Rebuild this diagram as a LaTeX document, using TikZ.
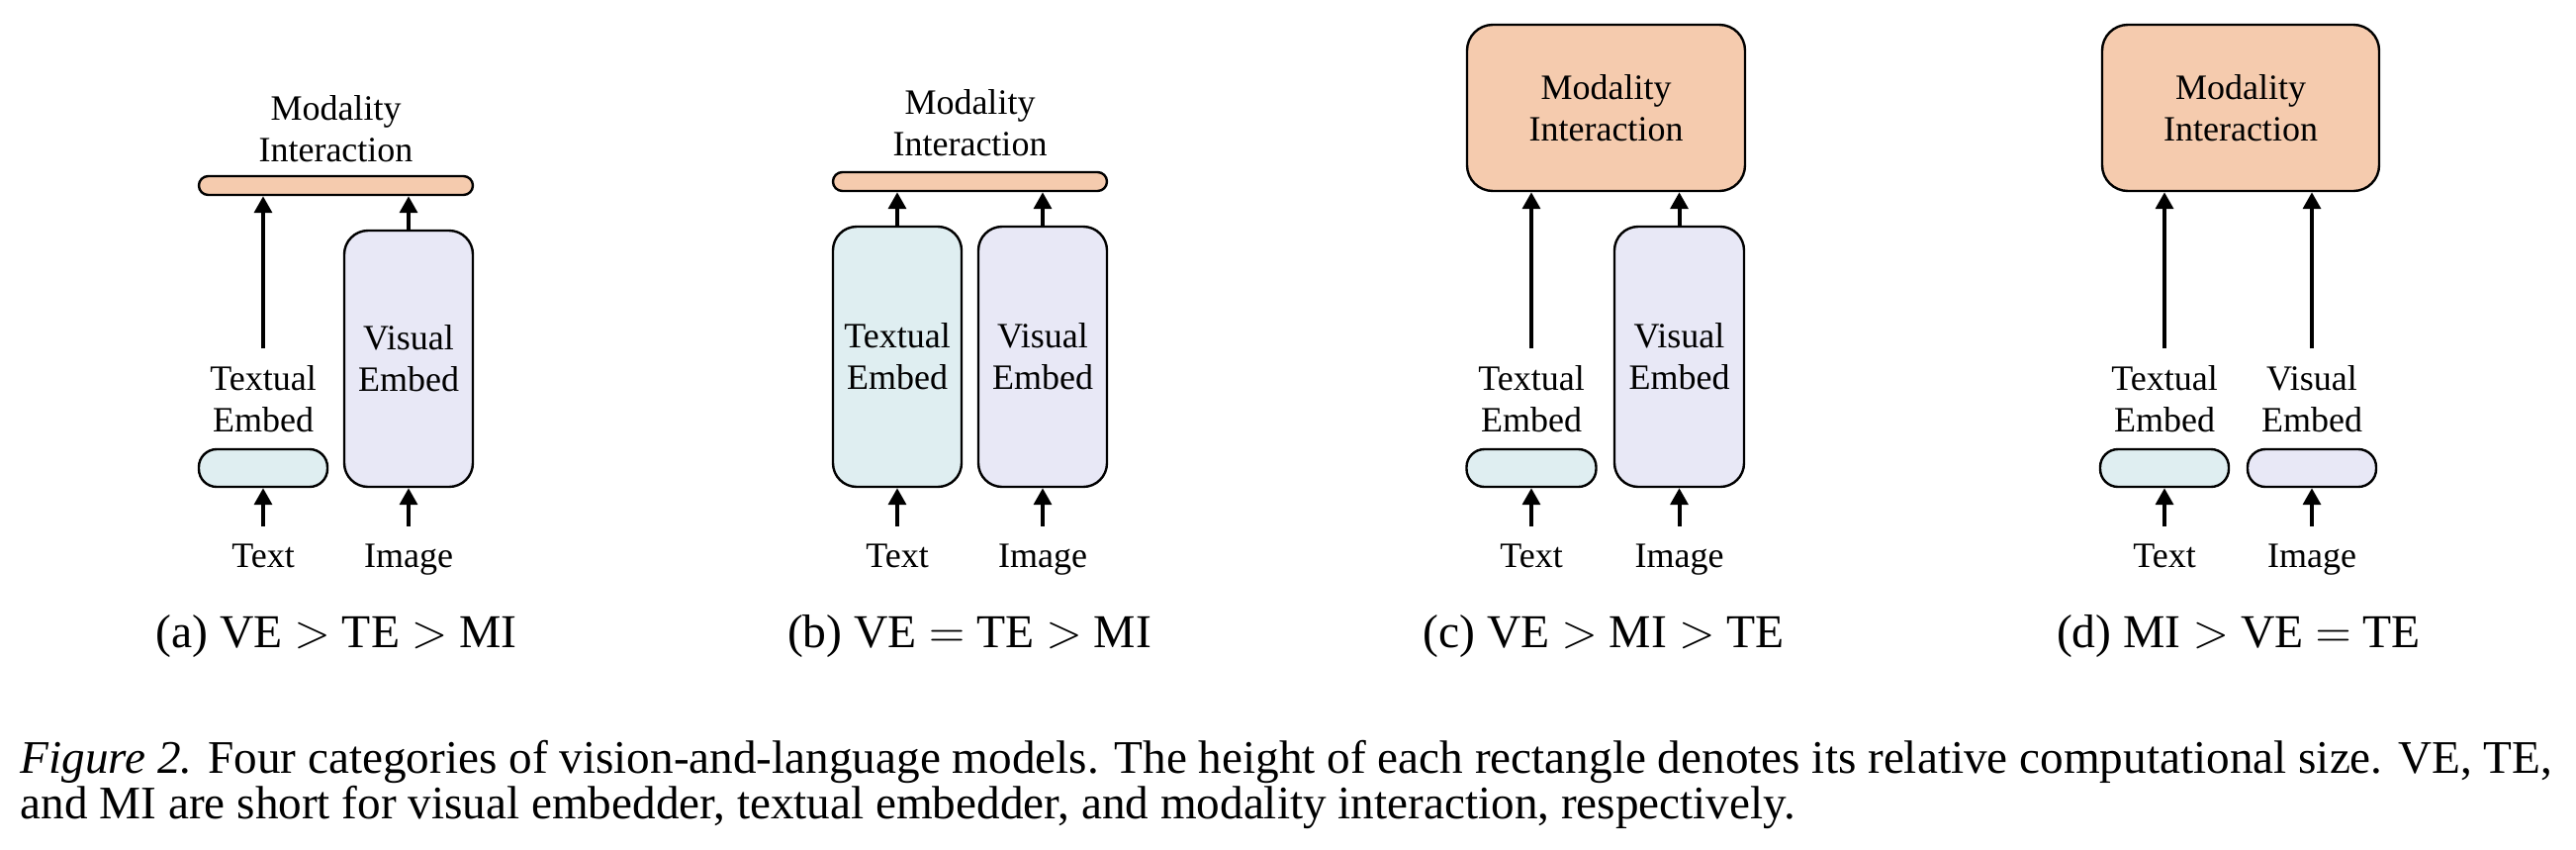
\documentclass[tikz,border=0pt]{standalone}
\usepackage{fontspec}
\setmainfont{Liberation Serif}
\usetikzlibrary{arrows.meta}
\definecolor{mic}{HTML}{F5CBAE}
\definecolor{tec}{HTML}{DFEEF1}
\definecolor{vec}{HTML}{E8E8F6}
\begin{document}
\begin{tikzpicture}[x=0.25pt,y=-0.25pt,
  lbl/.style={font=\fontsize{9}{10.5}\selectfont, align=center, inner sep=4.2pt},
  boxb/.style={draw=black, line width=0.6pt, inner sep=0pt, align=center, font=\fontsize{9}{10.5}\selectfont},
  mibox/.style={boxb, fill=mic},
  tebox/.style={boxb, fill=tec},
  vebox/.style={boxb, fill=vec},
  bar/.style={minimum width=69.25pt, minimum height=4.75pt, rounded corners=2.37pt},
  small/.style={minimum width=32.5pt, minimum height=9.5pt, rounded corners=4.5pt},
  tall/.style={minimum width=32.5pt, minimum height=65.75pt, rounded corners=6pt},
  big/.style={minimum width=70.25pt, minimum height=42pt, rounded corners=6.5pt},
  arr/.style={line width=1pt, -{Triangle[length=4.2pt,width=4.4pt]}},
  subcap/.style={font=\fontsize{11.9}{12}\selectfont, anchor=base, inner sep=0pt},
  capt/.style={font=\fontsize{11.8}{12}\selectfont, anchor=base west, inner sep=0pt},
]
\useasboundingbox (0,0) rectangle (2604,858);

% ---------- (a)
\node[lbl] (mila) at (339.5,130.3) {Modality\\Interaction};
\node[mibox, bar] (mia) at (339.5,187.5) {};
\node[lbl] (tla) at (266,403.3) {Textual\\Embed};
\node[tebox, small] (tea) at (266,473) {};
\node[vebox, tall, minimum height=64.75pt] (vea) at (413,362.5) {Visual\\Embed};
\node[lbl, anchor=base] (txa) at (266,573) {Text};
\node[lbl, anchor=base] (ima) at (413,573) {Image};
\draw[arr] (txa.north) -- (txa.north |- tea.south);
\draw[arr] (ima.north) -- (ima.north |- vea.south);
\draw[arr] (tla.north) -- (tla.north |- mia.south);
\draw[arr] (vea.north) -- (vea.north |- mia.south);
\node[subcap] (sa) at (340,654) {(a) VE $>$ TE $>$ MI};

% ---------- (b)
\node[lbl] (milb) at (980.5,124) {Modality\\Interaction};
\node[mibox, bar] (mib) at (980.5,183.5) {};
\node[tebox, tall] (teb) at (907,360.5) {Textual\\Embed};
\node[vebox, tall] (veb) at (1054,360.5) {Visual\\Embed};
\node[lbl, anchor=base] (txb) at (907,573) {Text};
\node[lbl, anchor=base] (imb) at (1054,573) {Image};
\draw[arr] (txb.north) -- (txb.north |- teb.south);
\draw[arr] (imb.north) -- (imb.north |- veb.south);
\draw[arr] (teb.north) -- (teb.north |- mib.south);
\draw[arr] (veb.north) -- (veb.north |- mib.south);
\node[subcap] (sb) at (980,654) {(b) VE $=$ TE $>$ MI};

% ---------- (c)
\node[mibox, big] (mic) at (1623.5,109) {Modality\\Interaction};
\node[lbl] (tlc) at (1548,403.3) {Textual\\Embed};
\node[tebox, small, minimum width=32.75pt] (tec) at (1548,473) {};
\node[vebox, tall, minimum width=32.75pt] (vec) at (1697.5,360.5) {Visual\\Embed};
\node[lbl, anchor=base] (txc) at (1548,573) {Text};
\node[lbl, anchor=base] (imc) at (1697.5,573) {Image};
\draw[arr] (txc.north) -- (txc.north |- tec.south);
\draw[arr] (imc.north) -- (imc.north |- vec.south);
\draw[arr] (tlc.north) -- (tlc.north |- mic.south);
\draw[arr] (vec.north) -- (vec.north |- mic.south);
\node[subcap] (sc) at (1621,654) {(c) VE $>$ MI $>$ TE};

% ---------- (d)
\node[mibox, big, minimum width=70pt] (mid) at (2265,109) {Modality\\Interaction};
\node[lbl] (tld) at (2188,403.3) {Textual\\Embed};
\node[lbl] (vld) at (2337,403.3) {Visual\\Embed};
\node[tebox, small] (ted) at (2188,473) {};
\node[vebox, small] (ved) at (2337,473) {};
\node[lbl, anchor=base] (txd) at (2188,573) {Text};
\node[lbl, anchor=base] (imd) at (2337,573) {Image};
\draw[arr] (txd.north) -- (txd.north |- ted.south);
\draw[arr] (imd.north) -- (imd.north |- ved.south);
\draw[arr] (tld.north) -- (tld.north |- mid.south);
\draw[arr] (vld.north) -- (vld.north |- mid.south);
\node[subcap] (sd) at (2263,654) {(d) MI $>$ VE $=$ TE};

% ---------- caption
\node[capt] (cap1) at (20,781) {\textit{Figure 2.} Four categories of vision-and-language models. The height of each rectangle denotes its relative computational size. VE, TE,};
\node[capt] (cap2) at (20,827) {and MI are short for visual embedder, textual embedder, and modality interaction, respectively.};
\end{tikzpicture}
\end{document}
